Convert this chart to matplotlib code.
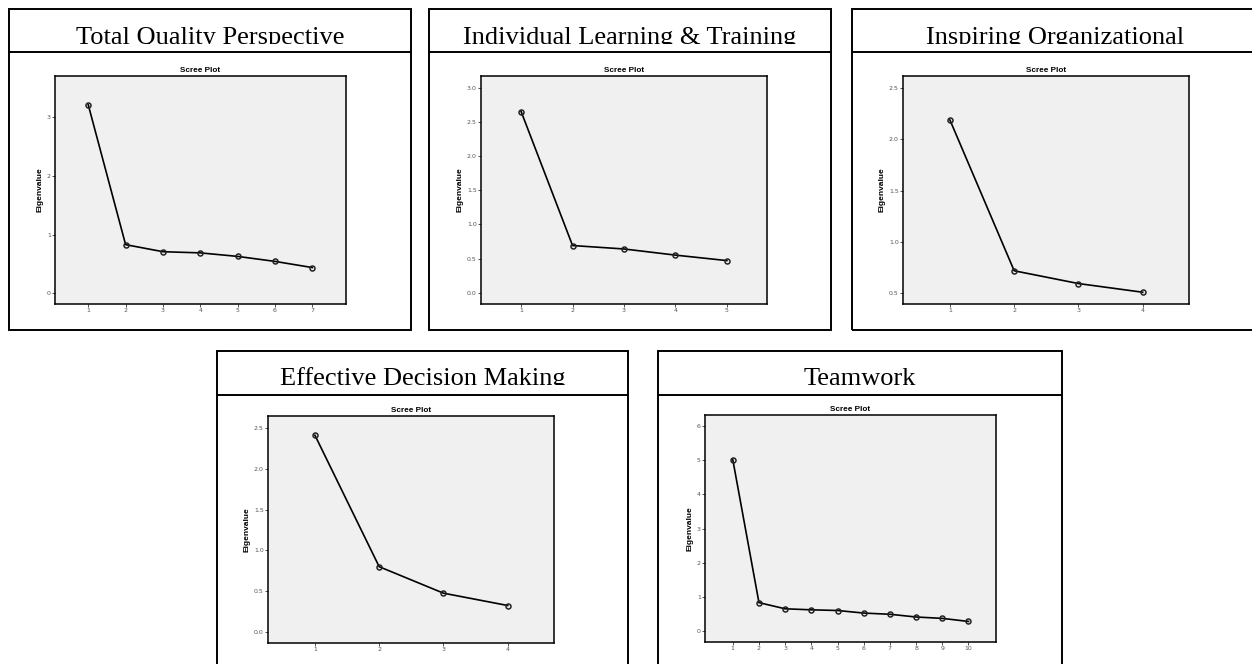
import matplotlib
matplotlib.use("Agg")
import matplotlib.pyplot as plt
from matplotlib.patches import Rectangle
from matplotlib.lines import Line2D

W, H = 1252, 664

# data
titles = ["Total Quality Perspective", "Individual Learning & Training",
          "Inspiring Organizational", "Effective Decision Making", "Teamwork"]
eig_tqp = [3.21, 0.83, 0.71, 0.69, 0.63, 0.545, 0.44]
eig_ilt = [2.65, 0.69, 0.64, 0.55, 0.47]
eig_io = [2.19, 0.715, 0.59, 0.505]
eig_edm = [2.41, 0.80, 0.476, 0.325]
eig_tw = [5.02, 0.84, 0.66, 0.63, 0.61, 0.535, 0.50, 0.42, 0.38, 0.29]
yticks_tqp = [0, 1, 2, 3]
yticks_ilt = [0.0, 0.5, 1.0, 1.5, 2.0, 2.5, 3.0]
yticks_io = [0.5, 1.0, 1.5, 2.0, 2.5]
yticks_edm = [0.0, 0.5, 1.0, 1.5, 2.0, 2.5]
yticks_tw = [0, 1, 2, 3, 4, 5, 6]

series = [eig_tqp, eig_ilt, eig_io, eig_edm, eig_tw]
yticks = [yticks_tqp, yticks_ilt, yticks_io, yticks_edm, yticks_tw]
ylims = [(-0.18, 3.70), (-0.165, 3.17), (0.39, 2.62), (-0.134, 2.645), (-0.31, 6.32)]
xlims = [(0.11, 7.9), (0.22, 5.78), (0.27, 4.72), (0.27, 4.72), (-0.06, 11.05)]
yfmt = ["%d", "%.1f", "%.1f", "%.1f", "%d"]

# pixel layout (left, right, top, bottom) - y measured from top
boxes = [(9, 411, 9, 330), (429, 831, 9, 330), (852, 1258, 9, 330),
         (217, 628, 351, 670), (658, 1062, 351, 670)]
seps = [52, 52, 52, 395, 395]
clips = [43.5, 43.5, 43.5, 384.5, 384.5]
axes_px = [(55, 346, 76, 304), (481, 767, 76, 304), (903, 1189, 76, 304),
           (268, 554, 416, 643), (705, 996, 415, 642)]


def fig_rect(l, r, t, b):
    return [l / W, 1 - b / H, (r - l) / W, (b - t) / H]


fig = plt.figure(figsize=(W / 100, H / 100), dpi=100, facecolor="white")

for i in range(5):
    l, r, t, b = boxes[i]
    fig.patches.append(Rectangle((l / W, 1 - b / H), (r - l) / W, (b - t) / H,
                                 transform=fig.transFigure, fill=False,
                                 edgecolor="black", linewidth=1.4))
    fig.lines.append(Line2D([l / W, r / W], [1 - seps[i] / H, 1 - seps[i] / H],
                            transform=fig.transFigure, color="black", linewidth=1.4))

    # header text, clipped at the baseline like the original
    hax = fig.add_axes(fig_rect(l, r, t + 1, clips[i]))
    hax.axis("off")
    hh = clips[i] - t - 1
    hax.text(0.5, -0.5 / hh, titles[i], transform=hax.transAxes, ha="center",
             va="baseline", fontsize=19, family="Liberation Serif", clip_on=True)

    al, ar, at, ab = axes_px[i]
    ax = fig.add_axes(fig_rect(al, ar, at, ab), facecolor="#f0f0f0")
    x = list(range(1, len(series[i]) + 1))
    ax.plot(x, series[i], color="black", linewidth=1.2, marker="o",
            markersize=3.6, markerfacecolor="none", markeredgecolor="#222222",
            markeredgewidth=1.1)
    ax.set_xlim(*xlims[i])
    ax.set_ylim(*ylims[i])
    ax.set_xticks(x)
    ax.set_yticks(yticks[i])
    ax.set_yticklabels([yfmt[i] % v for v in yticks[i]])
    ax.tick_params(length=2, width=0.6, labelsize=4.5, labelcolor="#555555",
                   color="#333333", pad=1)
    for s in ax.spines.values():
        s.set_linewidth(1.1)
    ax.set_title("Scree Plot", fontsize=5.9, fontweight="bold",
                 family="Liberation Sans", pad=3)
    ax.set_ylabel("Eigenvalue", fontsize=6, fontweight="bold",
                  family="Liberation Sans", labelpad=2.5)

fig.savefig("out.png", dpi=100, facecolor="white")
